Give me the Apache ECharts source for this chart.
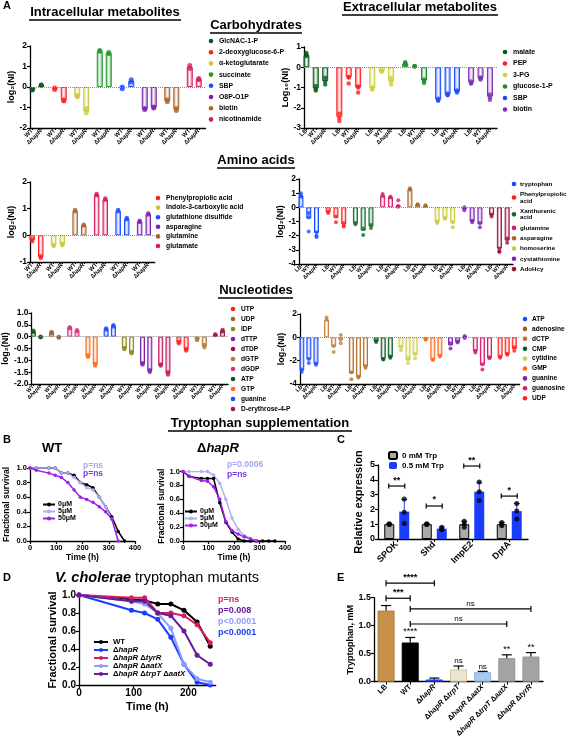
<!DOCTYPE html>
<html><head><meta charset="utf-8">
<script src="https://cdn.jsdelivr.net/npm/echarts@6/dist/echarts.min.js"></script>
<style>html,body{margin:0;padding:0;background:#fff}#c{width:569px;height:750px}</style>
</head><body><div id="c"></div>
<script>
// ================= DATA =================
// A1: intracellular carbohydrates (WT, ΔhapR)
const a1Strains = ['WT', 'ΔhapR'];
const a1Legend = ['GlcNAC-1-P','2-deoxyglucose-6-P','α-ketoglutarate','succinate','SBP','O8P-O1P','biotin','nicotinamide'];
const a1LegendColors = ['#0b5a1c','#ff1f1f','#c9c93a','#1f9b2b','#1a4dff','#7b22b0','#a8652b','#d81a5e'];
const a1BarColors = ['#0b5a1c','#ff1f1f','#c9c93a','#1f9b2b','#1a4dff','#7b22b0','#a8652b','#d81a5e'];
const a1Values = [[-0.13,0.08],[-0.08,-0.63],[-0.45,-1.2],[1.75,1.65],[-0.03,0.3],[-1.08,-1.0],[-0.68,-1.08],[0.98,0.38]];
const a1Dots = [[[-0.12,-0.15],[0.08,0.1]],[[-0.05,-0.12],[-0.63,-0.68]],[[-0.42,-0.48],[-1.05,-1.25]],[[1.74,1.78],[1.62,1.68]],[[0.0,-0.08],[0.25,0.35]],[[-1.05,-1.1],[-0.98,-1.02]],[[-0.62,-0.72],[-1.05,-1.15]],[[0.9,1.05],[0.35,0.42]]];

// A2: extracellular carbohydrates (LB, WT, ΔhapR)
const a2Strains = ['LB','WT','ΔhapR'];
const a2Legend = ['malate','PEP','3-PG','glucose-1-P','SBP','biotin'];
const a2LegendColors = ['#0b5a1c','#ff1f1f','#cfcf3a','#1f8a2b','#1a4dff','#7b2fb8'];
const a2BarColors = ['#0b5a1c','#ff1f1f','#cfcf3a','#1f8a2b','#1a4dff','#7b2fb8'];
const a2Values = [[0.6,-1.05,-0.68],[-2.45,-0.5,-1.0],[-1.05,-0.2,-0.7],[0.18,0.05,-0.65],[-1.6,-1.35,-1.2],[-0.75,-0.55,-1.45]];
const a2Dots = [[[0.55,0.7,0.62],[-0.92,-1.08,-1.15],[-0.52,-0.7,-0.85]],[[-2.3,-2.5,-2.65],[-0.5,-0.48,-0.8],[-0.95,-1.0,-1.25]],[[-1.0,-1.05,-1.1],[-0.17,-0.22,-0.2],[-0.52,-0.7,-0.85]],[[0.15,0.25,0.18],[0.05,0.06,0.04],[-0.6,-0.68,-0.78]],[[-1.55,-1.62,-1.66],[-1.3,-1.36,-1.38],[-1.15,-1.2,-1.25]],[[-0.7,-0.78,-0.8],[-0.5,-0.56,-0.6],[-1.35,-1.48,-1.6]]];

// A3: intracellular amino acids
const a3Strains = ['WT','ΔhapR'];
const a3Legend = ['Phenylpropiolic acid','Indole-3-carboxylic acid','glutathione disulfide','asparagine','glutamine','glutamate'];
const a3LegendColors = ['#ff1f1f','#c9c93a','#1a4dff','#7b22b0','#a8652b','#d81a5e'];
const a3BarColors = ['#ff1f1f','#c9c93a','#a8652b','#d81a5e','#1a4dff','#7b22b0'];
const a3Values = [[-0.18,-0.82],[-0.38,-0.35],[0.92,0.38],[1.52,1.35],[0.92,0.62],[0.52,0.8]];
const a3Dots = [[[-0.15,-0.22],[-0.78,-0.85]],[[-0.36,-0.4],[-0.32,-0.37]],[[0.9,0.95],[0.37,0.4]],[[1.5,1.55],[1.33,1.38]],[[0.9,0.95],[0.6,0.65]],[[0.5,0.55],[0.78,0.82]]];

// A4: extracellular amino acids
const a4Strains = ['LB','WT','ΔhapR'];
const a4Legend = ['tryptophan','Phenylpropiolic\nacid','Xanthurenic\nacid','glutamine','asparagine','homoserine','cystathionine','AdoHcy'];
const a4LegendColors = ['#1a4dff','#ff1f1f','#136b2e','#d81a6a','#a8652b','#c9c93a','#7b22b0','#a0103c'];
const a4BarColors = ['#1a4dff','#ff1f1f','#136b2e','#d81a6a','#a8652b','#c9c93a','#7b22b0','#a0103c'];
const a4Values = [[0.85,-0.8,-1.8],[-0.35,-0.75,-1.2],[-1.15,-1.65,-1.35],[0.85,0.75,0.15],[1.3,0.2,0.12],[-1.05,-0.8,-1.1],[-0.15,-1.0,-1.2],[-0.55,-2.9,-2.35]];
const a4Dots = [[[1.0,0.8,0.75],[-0.4,-0.7,-1.7],[-1.75,-2.0,-2.1]],[[-0.3,-0.4],[-0.65,-1.05],[-1.1,-1.3,-1.35]],[[-1.1,-1.2],[-1.5,-1.95],[-1.25,-1.45]],[[0.95,0.8],[0.75,0.7],[0.5,0.1,0.05]],[[1.35,1.25],[0.22,0.18],[0.15,0.1]],[[-1.0,-1.1],[-0.75,-0.8],[-1.05,-1.4]],[[0.0,-0.2],[-0.95,-1.05],[-1.1,-1.4]],[[-0.5,-0.65],[-2.9,-3.1,-3.15],[-2.2,-2.5]]];

// A5: intracellular nucleotides
const a5Strains = ['WT','ΔhapR'];
const a5Legend = ['UTP','UDP','IDP','dTTP','dTDP','dGTP','dGDP','ATP','GTP','guanine','D-erythrose-4-P'];
const a5LegendColors = ['#ff1f1f','#a0622d','#8c8c1e','#7b22b0','#9e1045','#b87a30','#e0307a','#0b5a1c','#ff6a13','#1a4dff','#a3174b'];
const a5BarColors = ['#0b5a1c','#a0622d','#e0307a','#ff6a13','#1a4dff','#8c8c1e','#7b22b0','#c2185b','#ff1f1f','#b87a30','#a3174b'];
const a5Values = [[0.22,0.0],[0.18,-0.03],[0.38,0.25],[-0.82,-1.18],[0.32,0.45],[-0.5,-0.68],[-1.15,-1.45],[-1.2,-1.55],[-0.25,-0.55],[-0.12,-0.4],[0.08,0.25]];
const a5Dots = [[[0.2,0.25],[0.0,-0.02]],[[0.16,0.2],[-0.03,-0.01]],[[0.36,0.4],[0.23,0.27]],[[-0.8,-0.85],[-1.15,-1.22]],[[0.3,0.35],[0.43,0.48]],[[-0.48,-0.52],[-0.65,-0.7]],[[-1.12,-1.18],[-1.42,-1.48]],[[-1.18,-1.22],[-1.5,-1.6]],[[-0.22,-0.28],[-0.52,-0.58]],[[-0.1,-0.14],[-0.35,-0.45]],[[0.07,0.09],[0.22,0.28]]];

// A6: extracellular nucleotides
const a6Strains = ['LB','WT','ΔhapR'];
const a6Legend = ['ATP','adenosine','dCTP','CMP','cytidine','GMP','guanine','guanosine','UDP'];
const a6LegendColors = ['#1a4dff','#a0622d','#b5732e','#0b5a1c','#cfcf50','#ff6a13','#7b22b0','#d81a6a','#ff1f1f'];
const a6BarColors = ['#1a4dff','#c08440','#b5732e','#0b5a1c','#cfcf50','#ff6a13','#7b22b0','#d81a6a','#ff1f1f'];
const a6Values = [[-2.8,-1.9,-2.3],[1.5,-0.8,-0.2],[-3.1,-3.4,-2.5],[-0.35,-1.85,-1.7],[-0.9,-2.0,-1.55],[-0.2,-1.9,-1.6],[-0.7,-0.4,0.05],[-1.2,-2.4,-1.75],[-1.7,-1.45,-1.0]];
const a6Dots = [[[-2.75,-2.95],[-1.85,-2.2],[-2.25,-2.35]],[[1.7,1.5],[-0.75,-1.25],[0.2,-0.2,-0.5]],[[-3.0,-3.6],[-3.35,-3.45],[-2.45,-2.6]],[[-0.3,-0.4],[-1.85,-1.9],[-1.65,-1.75]],[[-0.8,-1.1],[-1.8,-2.2],[-1.4,-1.8]],[[-0.15,-0.2],[-1.9,-1.95],[-1.55,-1.65]],[[-0.5,-0.95],[-0.35,-0.45],[0.12,-0.05]],[[-1.15,-1.3],[-2.3,-2.75],[-1.7,-1.8]],[[-1.65,-1.75],[-1.4,-1.5],[-0.85,-1.15]]];

// B: survival with tryptophan supplementation
const bNames = ['0μM','5μM','50μM'];
const bColors = ['#000000','#b3aef5','#a020e8'];
const bWtTimes = [[0,24,72,96,120,144,168,192,216,240,264,288,312,336,360],[0,24,72,96,120,144,168,192,216,240,264,288,312,336],[0,24,72,96,120,144,168,192,216,240,264,288,312,336]];
const bWtVals = [[1,1,1,1,0.93,0.93,0.9,0.8,0.77,0.73,0.6,0.47,0.33,0.13,0],[1,1,1,1,0.93,0.93,0.87,0.8,0.73,0.7,0.6,0.47,0.3,0],[1,0.97,0.93,0.9,0.87,0.8,0.7,0.6,0.57,0.53,0.47,0.4,0.3,0]];
const bDelTimes = [[0,24,72,96,120,144,168,192,216,240,264,288,312,336,360],[0,24,72,96,120,144,168,192,216,240,264,288],[0,24,72,96,120,144,168,192,216,240,264,288]];
const bDelVals = [[1,0.93,0.9,0.9,0.9,0.55,0.27,0.13,0.03,0,0,0,0,0,0],[1,1,1,1,0.95,0.83,0.6,0.33,0.17,0.08,0.04,0],[1,0.93,0.87,0.86,0.78,0.6,0.28,0.15,0.1,0.06,0.03,0]];
const bWtP = ['p=ns','p=ns'];
const bDelP = ['p=0.0006','p=ns'];
const bPColors = ['#aaa4f3','#7a3cdc'];

// C: relative expression
const cGenes = ['SPOK','Shd','ImpE2','DptA'];
const cSeriesNames = ['0 mM Trp','0.5 mM Trp'];
const c0Mean = [1.0,1.0,1.0,1.0];
const c0Err = [1.03,1.03,1.2,1.12];
const c0Dots = [[1.03,1.0,0.98],[1.03,1.0,0.98],[1.2,1.0,0.8],[1.12,1.0,0.9]];
const c5Mean = [1.85,0.7,3.2,1.88];
const c5Err = [2.67,0.82,3.8,2.4];
const c5Dots = [[2.7,1.8,1.05],[0.8,0.65,0.65],[3.85,3.2,2.6],[2.4,1.9,1.35]];
const cSig = ['**','*','**','*'];
const cSigY = [3.58,2.23,4.93,2.9];

// D: tryptophan mutants survival
const dNames = ['WT','ΔhapR','ΔhapR ΔtyrR','ΔhapR ΔaatX','ΔhapR ΔtrpT ΔaatX'];
const dColors = ['#000000','#1a3cff','#d81b60','#8c9cff','#6a1b9a'];
const dTimes = [0,96,120,144,168,192,216,240];
const dVals = [[1,0.95,0.94,0.9,0.9,0.83,0.7,0.43],[1,0.83,0.8,0.73,0.53,0.23,0.03,0.0],[1,0.97,0.97,0.8,0.8,0.77,0.67,0.47],[1,0.93,0.9,0.8,0.63,0.23,0.07,0.03],[1,0.93,0.93,0.8,0.77,0.6,0.33,0.23]];
const dP = ['p=ns','p=0.008','p<0.0001','p<0.0001'];
const dPColors = ['#d81b60','#6a1b9a','#8c9cff','#1a3cff'];

// E: tryptophan concentration
const eStrains = ['LB','WT','ΔhapR','ΔhapR ΔtrpT','ΔhapR ΔaatX','ΔhapR ΔtrpT ΔaatX','ΔhapR ΔtyrR'];
const eMeans = [1.27,0.7,0.04,0.22,0.17,0.42,0.45];
const eErr = [1.36,0.79,0.065,0.28,0.185,0.48,0.52];
const eColors = ['#c8914a','#000000','#1a3cff','#ebe5d2','#a8c8f0','#a3a3a3','#a3a3a3'];
const eBorders = ['#b07a35','#000000','#1a3cff','#d6c99c','#8fb2e0','#949494','#949494'];
const eStars = ['','****','','ns','ns','**','**'];
const eBrFrom = [0,0,1,1];
const eBrTo = [1,2,6,5];
const eBrY = [1.49,1.76,1.3,1.03];
const eBrText = ['***','****','ns','ns'];

// ================= BUILD =================
const F = 'Arial, "Liberation Sans", Helvetica, sans-serif';
const option = {animation:false, grid:[], xAxis:[], yAxis:[], series:[], legend:[], graphic:[]};

function rich(fs){
  return {
    d:{fontFamily:F, fontWeight:'bold', fontSize:fs, color:'#000'},
    i:{fontFamily:F, fontWeight:'bold', fontStyle:'italic', fontSize:fs, color:'#000'},
    b:{fontFamily:F, fontWeight:'bold', fontSize:fs, color:'#000'}
  };
}
function fmtStrain(name){
  return name.split(' ').map(t => t.charAt(0)==='Δ' ? '{d|Δ}{i|'+t.slice(1)+'}' : '{b|'+t+'}').join('{b| }');
}
function hexA(hex,a){const n=parseInt(hex.slice(1),16);return 'rgba('+(n>>16)+','+((n>>8)&255)+','+(n&255)+','+a+')';}
function barStyle(c){
  return {color:{type:'linear',x:0,y:0,x2:1,y2:0,colorStops:[{offset:0,color:hexA(c,0.6)},{offset:0.5,color:'#ffffff'},{offset:1,color:hexA(c,0.6)}]},borderColor:c,borderWidth:1};
}
const axLine = {show:true, onZero:false, lineStyle:{color:'#000', width:1.3}};
const axTick = {show:true, length:3, lineStyle:{color:'#000', width:1.2}};

function addGrid(l,t,w,h){ option.grid.push({left:l, top:t, width:w, height:h}); return option.grid.length-1; }

function valueY(gi, min, max, interval, name, nameGap, fs, nfs, fmt){
  option.yAxis.push({type:'value', gridIndex:gi, min, max, interval, name, nameLocation:'middle', nameGap,
    nameTextStyle:{fontFamily:F, fontWeight:'bold', fontSize:nfs, color:'#000'},
    axisLine:axLine, axisTick:axTick, splitLine:{show:false},
    axisLabel:{fontFamily:F, fontWeight:'bold', fontSize:fs, color:'#000', margin:3, formatter:fmt}});
}

function barPanel(cfg){
  const gi = addGrid(cfg.left, cfg.top, cfg.width, cfg.height);
  const nb = cfg.strains.length, per = 2*nb+1, G = cfg.values.length, total = G*per-1;
  const cats = new Array(total).fill('');
  const bars = new Array(total).fill('-');
  const dots = [];
  cfg.values.forEach((grp,g)=>grp.forEach((v,b)=>{
    const s = g*per + 2*b;
    cats[s] = cfg.strains[b];
    bars[s] = {value:v, itemStyle:barStyle(cfg.colors[g])};
    cfg.dots[g][b].forEach(d=>dots.push({value:[s,d], itemStyle:{color:cfg.colors[g]}}));
  }));
  option.xAxis.push({type:'category', gridIndex:gi, data:cats, position:'bottom',
    axisLine:axLine,
    axisTick:{show:true, alignWithLabel:true, length:2, interval:(i,v)=>v!=='', lineStyle:{color:'#000'}},
    axisLabel:{interval:0, rotate:45, margin:2, fontSize:cfg.xFont, fontFamily:F, fontWeight:'bold', color:'#000',
      formatter:v=>v?fmtStrain(v):'', rich:rich(cfg.xFont)}});
  valueY(gi, cfg.yMin, cfg.yMax, cfg.yInt, cfg.yName, cfg.nameGap, 8.5, 9, cfg.yFmt);
  option.series.push({type:'bar', xAxisIndex:gi, yAxisIndex:gi, data:bars, barWidth:cfg.barW,
    markLine:{silent:true, symbol:['none','none'], label:{show:false}, lineStyle:{type:'dotted', color:'#8a8a8a', width:1}, data:[{yAxis:0}]}});
  option.series.push({type:'scatter', xAxisIndex:gi, yAxisIndex:gi, data:dots, symbolSize:cfg.dotS, z:3});
  return gi;
}

function dotLegend(x, y0, names, colors, fs, lineH, gap, tOff){
  let y = y0;
  names.forEach((n,i)=>{
    const lines = n.split('\n').length;
    if (i>0){ const prevLines = names[i-1].split('\n').length; y += prevLines*lineH/2 + gap + lines*lineH/2; }
    option.graphic.push({type:'circle', shape:{cx:x, cy:y, r:2.3}, style:{fill:colors[i]}, z:100});
    option.graphic.push({type:'text', x:x+(tOff||8), y:y, z:100, style:{text:n, fontSize:fs, fontFamily:F, fontWeight:'bold', fill:'#000', lineHeight:lineH, align:'left', verticalAlign:'middle', textAlign:'left', textVerticalAlign:'middle'}});
  });
}
function txt(x,y,text,fs,st){
  option.graphic.push({type:'text', x, y, z:100, style:Object.assign({text, fontSize:fs, fontFamily:F, fontWeight:'bold', fill:'#000', align:'left', verticalAlign:'middle', textAlign:'left', textVerticalAlign:'middle'}, st||{})});
}
function uline(x1,x2,y){ option.graphic.push({type:'line', z:100, shape:{x1,y1:y,x2,y2:y}, style:{stroke:'#000', lineWidth:1.3}}); }

const intFmt = v=>String(v);
const f1 = v=>v.toFixed(1);

// ---- A panels
barPanel({left:30, top:46, width:175.5, height:82, strains:a1Strains, colors:a1BarColors, values:a1Values, dots:a1Dots,
  yMin:-2, yMax:2, yInt:1, yName:'log₂(NI)', nameGap:12, yFmt:intFmt, barW:6, dotS:5, xFont:6});
dotLegend(211, 41, a1Legend, a1LegendColors, 6.9, 7, 4.2);

barPanel({left:304, top:47, width:193, height:81, strains:a2Strains, colors:a2BarColors, values:a2Values, dots:a2Dots,
  yMin:-3, yMax:1, yInt:1, yName:'Log₁₀(NI)', nameGap:12, yFmt:intFmt, barW:6, dotS:4.5, xFont:6});
dotLegend(505, 52, a2Legend, a2LegendColors, 7, 7, 4.5);

barPanel({left:30, top:182, width:124.7, height:80, strains:a3Strains, colors:a3BarColors, values:a3Values, dots:a3Dots,
  yMin:-1, yMax:2, yInt:1, yName:'log₂(NI)', nameGap:12, yFmt:intFmt, barW:5.5, dotS:4.5, xFont:6});
dotLegend(158, 198, a3Legend, a3LegendColors, 6.8, 7, 2.6);

barPanel({left:299, top:179, width:214, height:85, strains:a4Strains, colors:a4BarColors, values:a4Values, dots:a4Dots,
  yMin:-4, yMax:2, yInt:1, yName:'log₂(NI)', nameGap:12, yFmt:intFmt, barW:5, dotS:4, xFont:5.5});
dotLegend(514, 184, a4Legend, a4LegendColors, 6.2, 6.5, 3.8, 6);

barPanel({left:30, top:313, width:198, height:71, strains:a5Strains, colors:a5BarColors, values:a5Values, dots:a5Dots,
  yMin:-2, yMax:1, yInt:0.5, yName:'log₂(NI)', nameGap:18, yFmt:f1, barW:5, dotS:4.5, xFont:5.5});
dotLegend(233, 309, a5Legend, a5LegendColors, 6.6, 7, 3);

barPanel({left:300, top:314, width:219.6, height:70, strains:a6Strains, colors:a6BarColors, values:a6Values, dots:a6Dots,
  yMin:-4, yMax:2, yInt:2, yName:'log₂(NI)', nameGap:12, yFmt:intFmt, barW:5, dotS:4, xFont:5.5});
dotLegend(525, 319, a6Legend, a6LegendColors, 6.6, 7, 2.9, 7);

// ---- B panels (line charts)
function survPanel(l,t,w,h,xMax,xVals,yName,yGap,xGap,fs,nfs){
  const gi = addGrid(l,t,w,h);
  option.xAxis.push({type:'value', gridIndex:gi, min:0, max:xMax, name:'Time (h)', nameLocation:'middle', nameGap:xGap,
    nameTextStyle:{fontFamily:F, fontWeight:'bold', fontSize:nfs, color:'#000'},
    axisLine:axLine, axisTick:Object.assign({customValues:xVals}, axTick), splitLine:{show:false},
    axisLabel:{customValues:xVals, fontFamily:F, fontWeight:'bold', fontSize:fs, color:'#000', margin:3}});
  valueY(gi, 0, 1, 0.2, yName, yGap, fs, nfs, f1);
  return gi;
}
function lineSeries(gi,name,times,vals,color,sym,lw){
  return {type:'line', name, xAxisIndex:gi, yAxisIndex:gi, data:times.map((t,i)=>[t,vals[i]]), color,
    symbol:'circle', symbolSize:sym, lineStyle:{width:lw, color}, itemStyle:{color}};
}
const gB1 = survPanel(30,468,105,73,400,[0,100,200,300,400],'Fractional survival',19,9,7.5,8.5);
bNames.forEach((n,k)=>option.series.push(lineSeries(gB1,n,bWtTimes[k],bWtVals[k],bColors[k],3.5,1.5)));
const gB2 = survPanel(183,471.5,102,69.5,400,[0,100,200,300,400],'Fractional survival',16,9,7.5,8.5);
bNames.forEach((n,k)=>option.series.push(lineSeries(gB2,n,bDelTimes[k],bDelVals[k],bColors[k],3.5,1.5)));
option.legend.push({data:bNames, left:42, top:501, orient:'vertical', itemWidth:12, itemHeight:5, itemGap:0,
  textStyle:{fontFamily:F, fontWeight:'bold', fontSize:7, lineHeight:6.8, color:'#000', padding:[0,0,0,-2]}, padding:0});
option.legend.push({data:bNames, left:184, top:508, orient:'vertical', itemWidth:12, itemHeight:5, itemGap:0,
  textStyle:{fontFamily:F, fontWeight:'bold', fontSize:7, lineHeight:7, color:'#000', padding:[0,0,0,-2]}, padding:0});

// ---- C panel
const gC = addGrid(378,465,150,74);
option.xAxis.push({type:'category', gridIndex:gC, data:cGenes, axisLine:axLine,
  axisTick:{show:true, alignWithLabel:true, length:3, lineStyle:{color:'#000'}},
  axisLabel:{interval:0, rotate:45, margin:4, fontFamily:F, fontWeight:'bold', fontSize:9, color:'#000'}});
valueY(gC, 0, 5, 1, 'Relative expression', 14, 9, 11, intFmt);
option.series.push({type:'bar', name:cSeriesNames[0], xAxisIndex:gC, yAxisIndex:gC, data:c0Mean, barWidth:10, barGap:'50%',
  itemStyle:{color:'#a9a9a9', borderColor:'#000', borderWidth:1}});
option.series.push({type:'bar', name:cSeriesNames[1], xAxisIndex:gC, yAxisIndex:gC, data:c5Mean, barWidth:10, barGap:'50%',
  itemStyle:{color:'#1a3cff'}});
function errRender(off,color,cap,lw){
  return (p,api)=>{
    const a = api.coord([api.value(0), api.value(1)]);
    const b = api.coord([api.value(0), api.value(2)]);
    const x = a[0]+off;
    return {type:'group', children:[
      {type:'line', shape:{x1:x,y1:a[1],x2:x,y2:b[1]}, style:{stroke:color,lineWidth:lw}},
      {type:'line', shape:{x1:x-cap,y1:b[1],x2:x+cap,y2:b[1]}, style:{stroke:color,lineWidth:lw}}]};
  };
}
option.series.push({type:'custom', xAxisIndex:gC, yAxisIndex:gC, data:c0Mean.map((m,i)=>[i,m,c0Err[i]]), encode:{x:0,y:[1,2]}, renderItem:errRender(-7.5,'#000',3,1), z:5});
option.series.push({type:'custom', xAxisIndex:gC, yAxisIndex:gC, data:c5Mean.map((m,i)=>[i,m,c5Err[i]]), encode:{x:0,y:[1,2]}, renderItem:errRender(7.5,'#1a3cff',3,1), z:5});
const cDot0 = [], cDot5 = [];
c0Dots.forEach((arr,i)=>arr.forEach(v=>cDot0.push([i,v])));
c5Dots.forEach((arr,i)=>arr.forEach(v=>cDot5.push([i,v])));
option.series.push({type:'scatter', xAxisIndex:gC, yAxisIndex:gC, data:cDot0, symbolSize:5, symbolOffset:[-7.5,0], itemStyle:{color:'#000'}, z:6});
option.series.push({type:'scatter', xAxisIndex:gC, yAxisIndex:gC, data:cDot5, symbolSize:5, symbolOffset:[7.5,0], itemStyle:{color:'#000'}, z:6});
option.series.push({type:'custom', xAxisIndex:gC, yAxisIndex:gC, data:cSigY.map((y,i)=>[i,y]), encode:{x:0,y:1}, z:6,
  renderItem:(p,api)=>{
    const c = api.coord([api.value(0), api.value(1)]);
    const x1=c[0]-8, x2=c[0]+8, y=c[1];
    return {type:'group', children:[
      {type:'line', shape:{x1,y1:y,x2,y2:y}, style:{stroke:'#000',lineWidth:1.2}},
      {type:'line', shape:{x1,y1:y-2.5,x2:x1,y2:y+2.5}, style:{stroke:'#000',lineWidth:1.2}},
      {type:'line', shape:{x1:x2,y1:y-2.5,x2:x2,y2:y+2.5}, style:{stroke:'#000',lineWidth:1.2}},
      {type:'text', x:c[0], y:y-1.5, style:{text:cSig[p.dataIndex], fontSize:9, fontWeight:'bold', fontFamily:F, fill:'#000', align:'center', verticalAlign:'bottom', textAlign:'center', textVerticalAlign:'bottom'}}]};
  }});
option.legend.push({data:cSeriesNames, left:388, top:451, orient:'vertical', itemWidth:8, itemHeight:7, itemGap:1.5, padding:0,
  textStyle:{fontFamily:F, fontWeight:'bold', fontSize:8, color:'#000'}});

// ---- D panel
const gD = survPanel(79,595,136.7,90,250,[0,100,200],'Fractional survival',21,16,10,11);
dNames.forEach((n,k)=>option.series.push(lineSeries(gD,n,dTimes,dVals[k],dColors[k],5,2)));
option.legend.push({data:dNames, left:93, top:638, orient:'vertical', itemWidth:14, itemHeight:5, itemGap:0, padding:0,
  formatter:n=>fmtStrain(n), textStyle:{fontFamily:F, fontWeight:'bold', fontSize:7.8, lineHeight:7.6, color:'#000', rich:rich(7.8)}});

// ---- E panel
const gE = addGrid(374,597.7,169,84);
option.xAxis.push({type:'category', gridIndex:gE, data:eStrains, axisLine:axLine,
  axisTick:{show:true, alignWithLabel:true, length:3, lineStyle:{color:'#000'}},
  axisLabel:{interval:0, rotate:45, margin:4, fontFamily:F, fontWeight:'bold', fontSize:7.5, color:'#000', formatter:v=>fmtStrain(v), rich:rich(7.5)}});
valueY(gE, 0, 1.5, 0.5, 'Tryptophan, mM', 19, 9, 9, f1);
option.series.push({type:'bar', name:'Tryptophan', xAxisIndex:gE, yAxisIndex:gE, barWidth:17,
  data:eMeans.map((v,i)=>({value:v, itemStyle:{color:eColors[i], borderColor:eBorders[i], borderWidth:1}}))});
option.series.push({type:'custom', xAxisIndex:gE, yAxisIndex:gE, data:eMeans.map((m,i)=>[i,m,eErr[i]]), encode:{x:0,y:[1,2]}, renderItem:errRender(0,'#000',5,1.2), z:5});
option.series.push({type:'custom', xAxisIndex:gE, yAxisIndex:gE, data:eErr.map((v,i)=>[i,v]), encode:{x:0,y:1}, z:6,
  renderItem:(p,api)=>{
    const c = api.coord([api.value(0), api.value(1)]);
    const s = eStars[p.dataIndex];
    return {type:'text', x:c[0], y:c[1]-1, style:{text:s, fontSize:s==='ns'?8:9, fontWeight:'normal', fontFamily:F, fill:'#000', align:'center', verticalAlign:'bottom', textAlign:'center', textVerticalAlign:'bottom'}};
  }});
option.series.push({type:'custom', xAxisIndex:gE, yAxisIndex:gE, data:eBrY.map((y,i)=>[eBrFrom[i],eBrTo[i],y]), encode:{x:[0,1],y:2}, z:6,
  renderItem:(p,api)=>{
    const a = api.coord([api.value(0), api.value(2)]);
    const b = api.coord([api.value(1), api.value(2)]);
    const y = a[1], t = eBrText[p.dataIndex];
    return {type:'group', children:[
      {type:'line', shape:{x1:a[0],y1:y,x2:b[0],y2:y}, style:{stroke:'#000',lineWidth:1.2}},
      {type:'line', shape:{x1:a[0],y1:y-3,x2:a[0],y2:y+3}, style:{stroke:'#000',lineWidth:1.2}},
      {type:'line', shape:{x1:b[0],y1:y-3,x2:b[0],y2:y+3}, style:{stroke:'#000',lineWidth:1.2}},
      {type:'text', x:(a[0]+b[0])/2, y:y-1.5, style:{text:t, fontSize:t==='ns'?8:9, fontWeight:t==='ns'?'normal':'bold', fontFamily:F, fill:'#000', align:'center', verticalAlign:'bottom', textAlign:'center', textVerticalAlign:'bottom'}}]};
  }});

// ---- Titles / labels
txt(3,6,'A',11);
txt(105,12,'Intracellular metabolites',13,{align:'center',textAlign:'center'}); uline(29,181,20);
txt(420,7,'Extracellular metabolites',13,{align:'center',textAlign:'center'}); uline(342,498,15);
txt(256,25,'Carbohydrates',13,{align:'center',textAlign:'center'}); uline(210,302,33);
txt(256,160,'Amino acids',13,{align:'center',textAlign:'center'}); uline(217,295,168);
txt(256,290,'Nucleotides',13,{align:'center',textAlign:'center'}); uline(218,293,298);
txt(260,423,'Tryptophan supplementation',13,{align:'center',textAlign:'center'}); uline(168,352,431);
txt(3,440,'B',11); txt(337,440,'C',11); txt(3,578,'D',11); txt(337,578,'E',11);
txt(52,448,'WT',13,{align:'center',textAlign:'center'});
txt(218,448,'{d|Δ}{i|hapR}',13,{align:'center',textAlign:'center', rich:{d:{fontSize:13,fontFamily:F,fontWeight:'bold'},i:{fontSize:13,fontFamily:F,fontWeight:'bold',fontStyle:'italic'}}});
txt(83,466,bWtP[0],8.5,{fill:bPColors[0]}); txt(83,474,bWtP[1],8.5,{fill:bPColors[1]});
txt(227,465,bDelP[0],8.5,{fill:bPColors[0]}); txt(227,475,bDelP[1],8.5,{fill:bPColors[1]});
txt(157,578,'{i|V. cholerae} {n|tryptophan mutants}',14,{align:'center',textAlign:'center', rich:{i:{fontSize:14.5,fontFamily:F,fontStyle:'italic',fontWeight:'bold'},n:{fontSize:14.5,fontFamily:F,fontWeight:'normal'}}});
dP.forEach((p,i)=>txt(218,600+i*10.7,p,9,{fill:dPColors[i]}));

const chart = echarts.init(document.getElementById('c'), null, {renderer:'canvas', width:569, height:750});
chart.setOption(option);
</script></body></html>
